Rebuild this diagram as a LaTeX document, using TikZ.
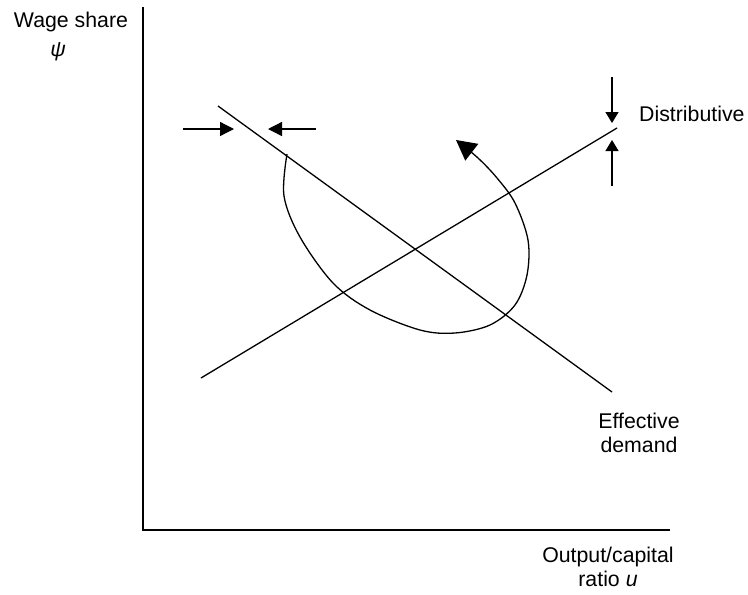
\documentclass[tikz,border=0pt]{standalone}
\usepackage{fontspec}
\setmainfont{Liberation Sans}
\usetikzlibrary{arrows.meta}
\begin{document}
\begin{tikzpicture}[x=1pt,y=-1pt,
  axis/.style={line width=2pt},
  curve/.style={line width=1.3pt},
  harrow/.style={line width=1.3pt,-{Triangle[length=14pt,width=14pt]}},
  varrow/.style={line width=1.3pt,-{Triangle[length=11pt,width=13pt]}},
  lbl/.style={font=\fontsize{21.3}{23.5}\selectfont,inner sep=0pt,align=center}]
\path[use as bounding box] (0,0) rectangle (748,595);
% axes
\coordinate (top) at (143,7);
\coordinate (origin) at (143,530);
\coordinate (right) at (670,530);
\draw[axis] (top) -- (origin) -- (right);
% lines
\coordinate (ed1) at (218,106);
\coordinate (ed2) at (612,392);
\coordinate (d1) at (201,378);
\coordinate (d2) at (617,128);
\draw[curve] (ed1) -- (ed2);
\draw[curve] (d1) -- (d2);
% horizontal arrows
\coordinate (ha1) at (183,129);
\coordinate (ha1t) at (234,129);
\coordinate (ha2) at (316,129);
\coordinate (ha2t) at (268,129);
\draw[harrow] (ha1) -- (ha1t);
\draw[harrow] (ha2) -- (ha2t);
% vertical arrows
\coordinate (va1) at (612,77);
\coordinate (va1t) at (612,123);
\coordinate (va2) at (612,186);
\coordinate (va2t) at (612,140);
\draw[varrow] (va1) -- (va1t);
\draw[varrow] (va2) -- (va2t);
% loop
\draw[curve,-{Triangle[length=20pt,width=21pt]}] plot[smooth,tension=0.55] coordinates
  {(287,154) (284,196) (300,237) (333,283) (370,310) (420,330) (455,333) (490,325) (515,305) (527,275) (528,240) (515,203) (497,178) (478,158) (456,140)};
% labels
\node[lbl] (ws) at (71,22) {Wage share};
\node[lbl] (psi) at (58,52) {\textit{ψ}};
\node[lbl,anchor=west] (dist) at (639,114) {Distributive};
\node[lbl] (ed) at (639,433) {Effective\\demand};
\node[lbl] (xl) at (608,567) {Output/capital\\ratio \textit{u}};
\end{tikzpicture}
\end{document}
